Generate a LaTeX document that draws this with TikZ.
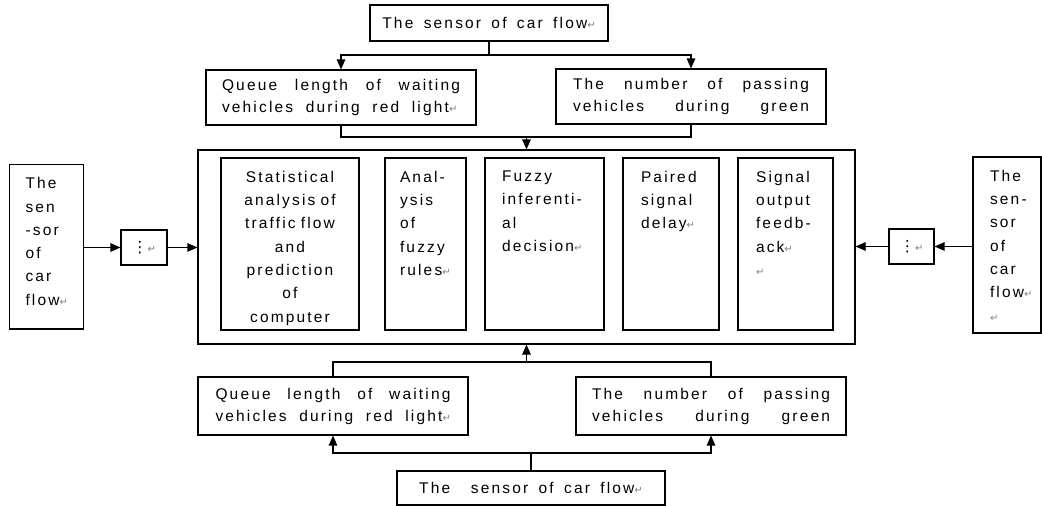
\documentclass[tikz,border=0pt]{standalone}
\usepackage{fontspec}
\setmainfont{Liberation Sans}[LetterSpace=14, WordSpace=1.6]
\newfontfamily\markfont{DejaVu Sans}
\usetikzlibrary{arrows.meta}
\newcommand\retmark{{\markfont\fontsize{10}{10}\selectfont\color{gray}↵}}
\newcommand\spreadline[2]{\makebox[#1]{#2}}
\begin{document}
\begin{tikzpicture}
	[
		x                 = 1pt,
		y                 = -1pt,
		line width        = 1.1pt,
		font              = \fontsize{15.5}{22}\selectfont,
		box/.style        = {draw, inner sep=0pt},
		txt/.style        = {inner sep=0pt, anchor=north west, align=left,
		                     font=\fontsize{15.5}{23.3}\selectfont},
		arr/.style        = {-{Triangle[length=10pt,width=8.5pt]}}
	]
	\useasboundingbox (0,0) rectangle (1042,506);

	% sensor above, and its two counts
	\node [box, minimum width=238, minimum height=36] (topsensor) at (489,23) {The sensor of car flow\retmark};
	\node [box, minimum width=270, minimum height=55, text width=238, align=left] (topqueue) at (341,97.5)
		{\spreadline{238pt}{Queue\hfill length\hfill of\hfill waiting}\\\spreadline{227pt}{vehicles\hfill during\hfill red\hfill light}\retmark};
	\node [box, minimum width=270, minimum height=55, text width=236, align=left] (topcount) at (691,96.5)
		{\spreadline{236pt}{The\hfill number\hfill of\hfill passing}\\\spreadline{236pt}{vehicles\hfill during\hfill green}};

	% controller with its five parts
	\node [box, minimum width=657, minimum height=194] (main) at (526.5,247) {};
	\node [box, minimum width=138, minimum height=172] (stat) at (290,244) {};
	\node [box, minimum width=81, minimum height=172] (rules) at (425.5,244) {};
	\node [box, minimum width=119, minimum height=172] (decide) at (544.5,244) {};
	\node [box, minimum width=96, minimum height=172] (delay) at (671,244) {};
	\node [box, minimum width=95, minimum height=172] (output) at (785.5,244) {};
	\node [txt, anchor=north, align=center, text width=134] (stattxt) at ([yshift=-13pt]stat.north)
		{Statistical\\analysis of\\traffic flow\\and\\prediction\\of\\computer};
	\node [txt] (rulestxt) at ([xshift=15pt,yshift=-13pt]rules.north west) {Anal-\\ysis\\of\\fuzzy\\rules\retmark};
	\node [txt] (decidetxt) at ([xshift=17pt,yshift=-13pt]decide.north west) {Fuzzy\\inferenti-\\al\\decision\retmark};
	\node [txt] (delaytxt) at ([xshift=18pt,yshift=-13pt]delay.north west) {Paired\\signal\\delay\retmark};
	\node [txt] (outputtxt) at ([xshift=18pt,yshift=-13pt]output.north west) {Signal\\output\\feedb-\\ack\retmark\\\retmark};

	% side sensors
	\node [box, minimum width=74, minimum height=164.5] (leftsensor) at (46.5,246.75) {};
	\node [txt] (leftsensortxt) at ([xshift=16pt,yshift=-13pt]leftsensor.north west) {The\\sen\\-sor\\of\\car\\flow\retmark};
	\node [box, minimum width=46, minimum height=35] (leftdots) at (144,247.5) {{\markfont ⋮}\retmark};
	\node [box, minimum width=68, minimum height=176] (rightsensor) at (1007,245) {};
	\node [txt] (rightsensortxt) at ([xshift=17pt,yshift=-13pt]rightsensor.north west) {The\\sen-\\sor\\of\\car\\flow\retmark\\\retmark};
	\node [box, minimum width=45, minimum height=35] (rightdots) at (911.5,246.5) {{\markfont ⋮}\retmark};

	% sensor below, and its two counts
	\node [box, minimum width=270, minimum height=58, text width=235, align=left] (botqueue) at (333,406)
		{\spreadline{235pt}{Queue\hfill length\hfill of\hfill waiting}\\\spreadline{227pt}{vehicles\hfill during\hfill red\hfill light}\retmark};
	\node [box, minimum width=270, minimum height=58, text width=238, align=left] (botcount) at (711,406)
		{\spreadline{238pt}{The\hfill number\hfill of\hfill passing}\\\spreadline{238pt}{vehicles\hfill during\hfill green}};
	\node [box, minimum width=268, minimum height=34] (botsensor) at (531,488) {The\ \ sensor of car flow\retmark};

	% connectors
	\coordinate (topsplit) at (489,55);
	\coordinate (topjoin) at (526.5,137);
	\coordinate (botjoin) at (526.5,362);
	\coordinate (botsplit) at (531,453);
	\draw (topsensor.south) -- (topsplit);
	\draw [arr] (topsplit) -| (topqueue.north);
	\draw [arr] (topsplit) -| (topcount.north);
	\draw (topqueue.south) |- (topjoin) -| (topcount.south);
	\draw [arr] (topjoin) -- (main.north);
	\draw (botqueue.north) |- (botjoin) -| (botcount.north);
	\draw [arr] (botjoin) -- (main.south);
	\draw (botsensor.north) -- (botsplit);
	\draw [arr] (botsplit) -| (botqueue.south);
	\draw [arr] (botsplit) -| (botcount.south);
	\draw [arr] (leftsensor.east |- leftdots.west) -- (leftdots.west);
	\draw [arr] (leftdots.east) -- (leftdots.east -| main.west);
	\draw [arr] (rightsensor.west |- rightdots.east) -- (rightdots.east);
	\draw [arr] (rightdots.west) -- (rightdots.west -| main.east);
\end{tikzpicture}
\end{document}
